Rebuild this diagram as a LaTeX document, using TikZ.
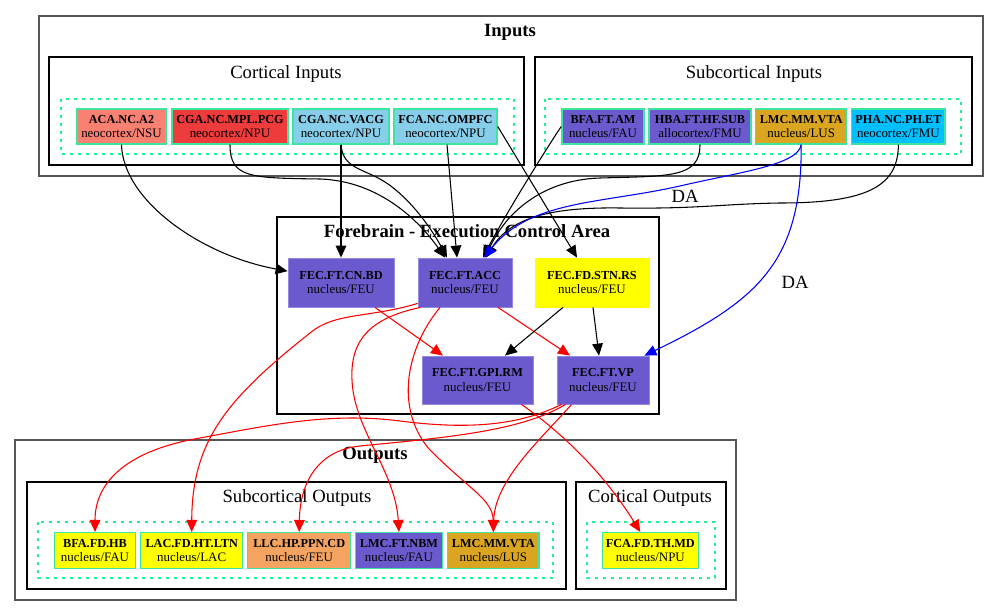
\documentclass[tikz,border=0pt]{standalone}
\usepackage{fontspec}
\setmainfont{Liberation Serif}
\usetikzlibrary{arrows.meta,calc}
\definecolor{cSalmon}{HTML}{FA8072}
\definecolor{cRed}{HTML}{EE3B3B}
\definecolor{cSky}{HTML}{87CEEB}
\definecolor{cSlate}{HTML}{6A5ACD}
\definecolor{cGold}{HTML}{DAA520}
\definecolor{cDeep}{HTML}{00BFFF}
\definecolor{cYellow}{HTML}{FFFF00}
\definecolor{cSandy}{HTML}{F4A460}
\definecolor{cBorder}{HTML}{3CE6A0}
\definecolor{cDot}{HTML}{20F090}
\definecolor{cSlateEdge}{HTML}{9189E3}
\definecolor{cOuter}{HTML}{555555}
\definecolor{cBlue}{HTML}{0000FF}
\definecolor{cEdgeRed}{HTML}{FF0000}
\newcommand{\nlab}[2]{{\fontsize{9.2}{10.8}\selectfont\bfseries #1}\\#2}
\begin{document}
\begin{tikzpicture}[x=0.75pt,y=-0.75pt,
  gvnode/.style={rectangle, inner sep=0pt, align=center, font=\fontsize{9.7}{10.8}\selectfont, line width=1.1pt, draw=cBorder},
  innode/.style={gvnode, minimum height=26.25pt},
  fbnode/.style={gvnode, draw=cSlateEdge, line width=0.6pt, fill=cSlate},
  outnode/.style={gvnode, minimum height=26.7pt},
  outercl/.style={draw=cOuter, line width=1.5pt},
  innercl/.style={draw=black, line width=0.9pt},
  dotcl/.style={draw=cDot, line width=1.3pt, dash pattern=on 2.2pt off 3.8pt},
  cltitle/.style={font=\fontsize{14}{16}\selectfont, inner sep=0pt},
  clbold/.style={font=\fontsize{14}{16}\selectfont\bfseries, inner sep=0pt},
  conn/.style={line width=0.8pt, -{Triangle[length=9pt,width=8pt]}},
  bconn/.style={conn, draw=black},
  rconn/.style={conn, draw=cEdgeRed},
  uconn/.style={conn, draw=cBlue},
  dalab/.style={font=\fontsize{14}{16}\selectfont, inner sep=0pt}
]
\useasboundingbox (0,0) rectangle (999,616);
\fill[white] (0,0) rectangle (999,616);

% ---------- clusters ----------
\draw[outercl] (39,16) rectangle (983,176);
\node[clbold] (tInputs) at (510,32) {Inputs};
\draw[innercl] (49,57) rectangle (524,165);
\node[cltitle] (tCortIn) at (286,74) {Cortical Inputs};
\draw[dotcl] (61,99) rectangle (514,154);
\draw[innercl] (535,57) rectangle (972,165);
\node[cltitle] (tSubIn) at (754,74) {Subcortical Inputs};
\draw[dotcl] (545,99) rectangle (961,154);

\draw[innercl] (277,217) rectangle (659,414);
\node[clbold] (tFore) at (467,231) {Forebrain - Execution Control Area};

\draw[outercl] (15,440) rectangle (736,600);
\node[clbold] (tOut) at (375,455) {Outputs};
\draw[innercl] (27,482) rectangle (566,589);
\node[cltitle] (tSubOut) at (297,498) {Subcortical Outputs};
\draw[dotcl] (38,522) rectangle (553,578);
\draw[innercl] (576,482) rectangle (726,589);
\node[cltitle] (tCortOut) at (650,498) {Cortical Outputs};
\draw[dotcl] (587,522) rectangle (715,578);

% ---------- input nodes ----------
\node[innode, fill=cSalmon, minimum width=66.75pt] (aca) at (121.5,126.5) {\nlab{ACA.NC.A2}{neocortex/NSU}};
\node[innode, fill=cRed, minimum width=87pt] (mpl) at (230,126.5) {\nlab{CGA.NC.MPL.PCG}{neocortex/NPU}};
\node[innode, fill=cSky, minimum width=72pt] (vacg) at (341,126.5) {\nlab{CGA.NC.VACG}{neocortex/NPU}};
\node[innode, fill=cSky, minimum width=77.25pt] (ompfc) at (445.5,126.5) {\nlab{FCA.NC.OMPFC}{neocortex/NPU}};
\node[innode, fill=cSlate, minimum width=61.5pt] (bfaam) at (603,126.5) {\nlab{BFA.FT.AM}{nucleus/FAU}};
\node[innode, fill=cSlate, minimum width=76.5pt] (hba) at (700,126.5) {\nlab{HBA.FT.HF.SUB}{allocortex/FMU}};
\node[innode, fill=cGold, minimum width=68.25pt] (lmcin) at (801.2,126.5) {\nlab{LMC.MM.VTA}{nucleus/LUS}};
\node[innode, fill=cDeep, minimum width=70pt] (pha) at (898.4,126.5) {\nlab{PHA.NC.PH.ET}{neocortex/FMU}};

% ---------- forebrain nodes ----------
\node[fbnode, minimum width=79.5pt, minimum height=36.75pt] (cnbd) at (341,282.5) {\nlab{FEC.FT.CN.BD}{nucleus/FEU}};
\node[fbnode, minimum width=70.5pt, minimum height=36.75pt] (acc) at (465,282.5) {\nlab{FEC.FT.ACC}{nucleus/FEU}};
\node[fbnode, draw=cYellow, fill=cYellow, minimum width=85.5pt, minimum height=36.75pt] (stn) at (592,282.5) {\nlab{FEC.FD.STN.RS}{nucleus/FEU}};
\node[fbnode, minimum width=83.25pt, minimum height=36pt] (gpi) at (477.5,380) {\nlab{FEC.FT.GPI.RM}{nucleus/FEU}};
\node[fbnode, minimum width=69pt, minimum height=36pt] (vp) at (603,380) {\nlab{FEC.FT.VP}{nucleus/FEU}};

% ---------- output nodes ----------
\node[outnode, fill=cYellow, minimum width=61pt] (bfahb) at (95,550.5) {\nlab{BFA.FD.HB}{nucleus/FAU}};
\node[outnode, fill=cYellow, minimum width=76.5pt] (lac) at (191.7,550.5) {\nlab{LAC.FD.HT.LTN}{nucleus/LAC}};
\node[outnode, fill=cSandy, minimum width=77.25pt] (llc) at (299.2,550.5) {\nlab{LLC.HP.PPN.CD}{nucleus/FEU}};
\node[outnode, fill=cSlate, minimum width=65pt] (nbm) at (399,550.5) {\nlab{LMC.FT.NBM}{nucleus/FAU}};
\node[outnode, fill=cGold, minimum width=68.5pt] (lmcout) at (493.3,550.5) {\nlab{LMC.MM.VTA}{nucleus/LUS}};
\node[outnode, fill=cYellow, minimum width=72pt] (fca) at (650.3,550.5) {\nlab{FCA.FD.TH.MD}{nucleus/NPU}};

% ---------- input -> forebrain ----------
\draw[bconn] (aca.south) .. controls (123,200) and (200,255) .. (cnbd.168);
\draw[bconn] (mpl.south) .. controls (230,178) and (250,178) .. (320,179) .. controls (380,181) and (420,222) .. ($(acc.north)+(-20,0)$);
\draw[bconn] (vacg.south) -- (cnbd.north);
\draw[bconn] (vacg.south) .. controls (343,170) and (365,168) .. (388,184) .. controls (415,203) and (435,235) .. ($(acc.north)+(-18,0)$);
\draw[bconn] ($(ompfc.south)+(1.5,0)$) -- ($(acc.north)+(-8,0)$);
\draw[bconn] (ompfc.east) -- ($(stn.north)+(-15,0)$);
\draw[bconn] (bfaam.west) .. controls (548,146) and (505,215) .. ($(acc.north)+(18,0)$);
\draw[bconn] (hba.south) .. controls (700,178) and (670,176) .. (600,178) .. controls (540,180) and (505,215) .. ($(acc.north)+(20,0)$);
\draw[bconn] (pha.south) .. controls (898,185) and (870,203) .. (780,203) .. controls (720,204) and (700,209) .. (620,208) .. controls (550,207) and (510,218) .. ($(acc.north)+(21,0)$);
\draw[uconn] (lmcin.south) .. controls (798,165) and (740,172) .. (680,186) .. controls (600,204) and (530,200) .. ($(acc.north)+(19,0)$);
\draw[uconn] (lmcin.south) .. controls (802,260) and (760,300) .. ($(vp.north east)+(-5,0)$);
\node[dalab] (da1) at (685,196) {DA};
\node[dalab] (da2) at (795,282) {DA};

% ---------- forebrain internal ----------
\draw[rconn] ($(cnbd.south)+(34,0)$) -- ($(gpi.north)+(-34.5,0)$);
\draw[rconn] ($(acc.south)+(33,0)$) -- ($(vp.north)+(-33,0)$);
\draw[bconn] ($(stn.south)+(-29,0)$) -- ($(gpi.north)+(27.5,0)$);
\draw[bconn] ($(stn.south)+(1,0)$) -- ($(vp.north)+(-4,0)$);

% ---------- forebrain -> outputs ----------
\draw[rconn] ($(acc.south west)+(0,-4)$) .. controls (370,318) and (335,312) .. (310,333) .. controls (228,398) and (192,440) .. (lac.north);
\draw[rconn] ($(acc.south west)+(3,0)$) .. controls (370,318) and (350,340) .. (352,380) .. controls (354,430) and (395,470) .. (nbm.north);
\draw[rconn] ($(acc.south)+(-25,0)$) .. controls (405,350) and (395,410) .. (430,450) .. controls (470,490) and (493,500) .. (lmcout.north);
\draw[rconn] ($(vp.south west)+(5,0)$) .. controls (520,425) and (470,430) .. (400,421) .. controls (330,412) and (270,425) .. (200,438) .. controls (130,450) and (95,480) .. (bfahb.north);
\draw[rconn] ($(vp.south west)+(9,0)$) .. controls (520,432) and (440,438) .. (360,446) .. controls (320,450) and (300,480) .. (llc.north);
\draw[rconn] ($(vp.south west)+(15,0)$) .. controls (540,440) and (495,480) .. (lmcout.north);
\draw[rconn] ($(gpi.south)+(44,0)$) .. controls (565,435) and (605,475) .. ($(fca.north)+(-10,0)$);
\end{tikzpicture}
\end{document}
